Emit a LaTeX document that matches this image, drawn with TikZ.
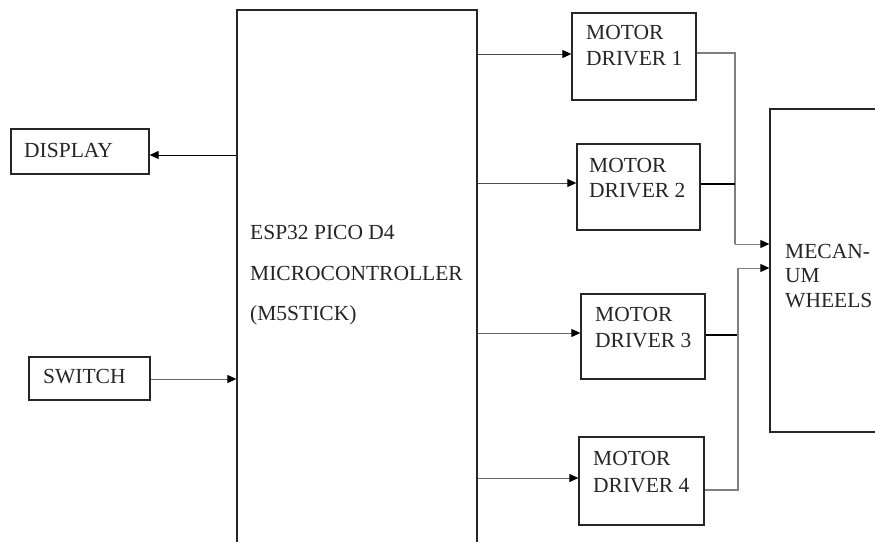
\documentclass[tikz,border=0pt]{standalone}
\usepackage{fontspec}
\setmainfont{Liberation Serif}
\usetikzlibrary{arrows.meta}
\begin{document}
\begin{tikzpicture}[x=1pt,y=-1pt,
  blk/.style={draw=black!85,line width=1.3pt,inner sep=0pt},
  txt/.style={anchor=base west,inner sep=0pt,font=\fontsize{21.5}{26}\selectfont,text=black!85},
  arr/.style={line width=1pt,-{Triangle[length=9pt,width=8pt,color=black,fill=black]}},
  con/.style={line width=1.1pt},
  gry/.style={draw=black!50}]
\useasboundingbox (0,0) rectangle (875,541);
\clip (0,0) rectangle (875,541);
% blocks
\node[blk,minimum width=240pt,minimum height=550pt] (esp) at (357,285) {};
\node[blk,minimum width=138pt,minimum height=45pt] (disp) at (80,151.5) {};
\node[blk,minimum width=121pt,minimum height=43pt] (sw) at (89.5,378.5) {};
\node[blk,minimum width=124pt,minimum height=87pt] (md1) at (634,56.5) {};
\node[blk,minimum width=123pt,minimum height=86pt] (md2) at (638.5,187) {};
\node[blk,minimum width=124pt,minimum height=85pt] (md3) at (643,336.5) {};
\node[blk,minimum width=125pt,minimum height=88pt] (md4) at (641.5,481) {};
\node[blk,minimum width=140pt,minimum height=323pt] (mw) at (840,270.5) {};
% texts
\node[txt] (tdisp) at (24,157) {DISPLAY};
\node[txt] (tsw) at (43,383) {SWITCH};
\node[txt] (te1) at (250,239) {ESP32 PICO D4};
\node[txt] (te2) at (250,280) {MICROCONTROLLER};
\node[txt] (te3) at (250,320) {(M5STICK)};
\node[txt] (t1a) at (586,39) {MOTOR};
\node[txt] (t1b) at (586,65) {DRIVER 1};
\node[txt] (t2a) at (589,172) {MOTOR};
\node[txt] (t2b) at (589,197) {DRIVER 2};
\node[txt] (t3a) at (595,321) {MOTOR};
\node[txt] (t3b) at (595,347) {DRIVER 3};
\node[txt] (t4a) at (593,465) {MOTOR};
\node[txt] (t4b) at (593,492) {DRIVER 4};
\node[txt] (tm1) at (785,258) {MECAN-};
\node[txt] (tm2) at (785,282) {UM};
\node[txt] (tm3) at (785,307) {WHEELS};
% coordinates
\coordinate (j12) at (735,0);
\coordinate (j34) at (738,0);
% connectors from controller
\draw[arr] (esp.west |- 0,155) -- (disp.east |- 0,155);
\draw[arr,draw=black!60] (sw.east |- 0,379) -- (esp.west |- 0,379);
\draw[arr,draw=black!70] (esp.east |- 0,54) -- (md1.west |- 0,54);
\draw[arr,draw=black!70] (esp.east |- 0,183) -- (md2.west |- 0,183);
\draw[arr,draw=black!60] (esp.east |- 0,333) -- (md3.west |- 0,333);
\draw[arr,draw=black!60] (esp.east |- 0,478) -- (md4.west |- 0,478);
% connectors to wheels
\draw[con,gry] (md1.east |- 0,53) -- (j12 |- 0,53) -- (j12 |- 0,244);
\draw[con,gry,arr] (j12 |- 0,244) -- (mw.west |- 0,244);
\draw[con] (md2.east |- 0,184) -- (j12 |- 0,184);
\draw[con] (md3.east |- 0,335) -- (j34 |- 0,335);
\draw[con,gry] (md4.east |- 0,490) -- (j34 |- 0,490) -- (j34 |- 0,268);
\draw[con,gry,arr] (j34 |- 0,268) -- (mw.west |- 0,268);
\end{tikzpicture}
\end{document}
